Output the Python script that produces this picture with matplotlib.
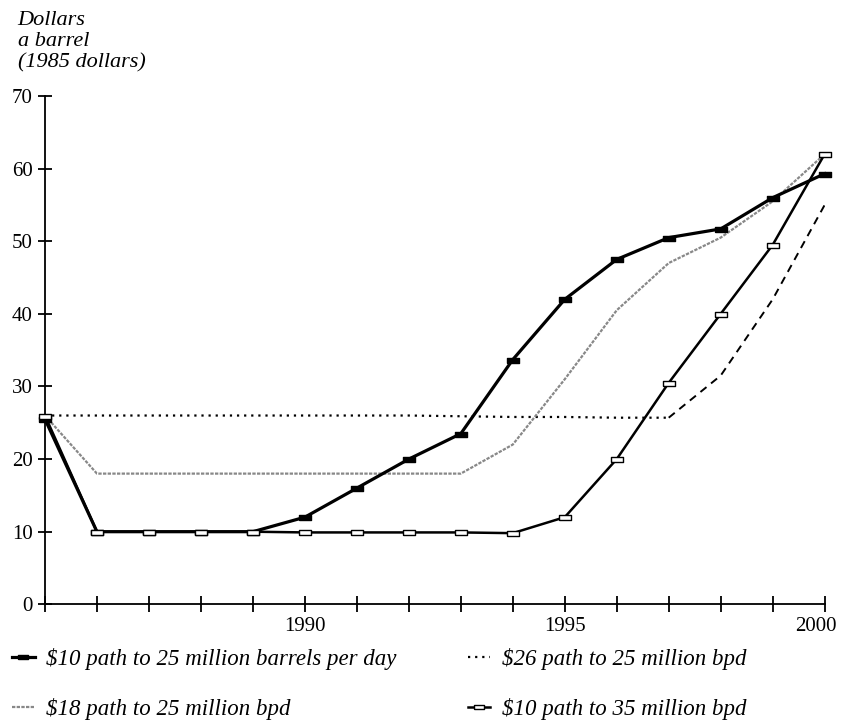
import numpy as np
import matplotlib.pyplot as plt
import matplotlib.transforms as mtransforms
from matplotlib.lines import Line2D

plt.rcParams['font.family'] = ['Liberation Serif', 'DejaVu Serif']

years = np.arange(1985, 2001)

# dollars a barrel, 1985 dollars
path10_25 = [25.5, 10, 10, 10, 10, 12, 16, 20, 23.5, 33.7, 42, 47.5, 50.5, 51.7, 56, 59.3]
path26_25 = [26, 26, 26, 26, 26, 26, 26, 26, 25.9, 25.8, 25.8, 25.7, 25.7, 31.5, 42, 55]
path18_25 = [26, 18, 18, 18, 18, 18, 18, 18, 18, 22, 31, 40.5, 47, 50.5, 55.5, 62]
path10_35 = [26, 10, 10, 10, 10, 9.9, 9.9, 9.9, 9.9, 9.8, 12, 20, 30.5, 40, 49.5, 62]

labels = ["$10 path to 25 million barrels per day",
          "$18 path to 25 million bpd",
          "$26 path to 25 million bpd",
          "$10 path to 35 million bpd"]
labels = [s.replace("$", r"\$") for s in labels]

# flat rectangle marker
rect = [(-1, -0.45), (1, -0.45), (1, 0.45), (-1, 0.45), (-1, -0.45)]

fig = plt.figure(figsize=(8.42, 7.22), dpi=100)
ax = fig.add_axes([0.0534, 0.163, 0.926, 0.704])

# $26 path: dotted, then dashed rise after 1997
ax.plot(years[:13], path26_25[:13], color='black', lw=1.6, ls=(0, (1, 2.2)), zorder=2)
ax.plot(years[12:], path26_25[12:], color='black', lw=1.4, ls=(0, (4, 3)), zorder=2)
ax.plot(years, path18_25, color='#888888', lw=1.6, ls=(0, (1.5, 0.6)), zorder=2)
ax.plot(years, path10_25, color='black', lw=2.3, marker=rect, ms=8,
        mfc='black', mec='black', zorder=3, clip_on=False)
ax.plot(years, path10_35, color='black', lw=1.8, marker=rect, ms=8,
        mfc='white', mec='black', mew=1.0, zorder=4, clip_on=False)

ax.set_xlim(1985, 2000)
ax.set_ylim(0, 70)
ax.spines['top'].set_visible(False)
ax.spines['right'].set_visible(False)
ax.spines['left'].set_linewidth(1.3)
ax.spines['bottom'].set_linewidth(1.3)
ax.set_xticks(years)
ax.set_xticklabels([str(y) if y in (1990, 1995, 2000) else "" for y in years])
ax.set_yticks(range(0, 71, 10))
ax.tick_params(direction='inout', length=12, width=1.3, labelsize=15)
ax.tick_params(axis='y', length=10, pad=4)
ax.tick_params(axis='x', pad=3)

# nudge the last year label left so it stays inside the figure
last = ax.get_xticklabels()[-1]
last.set_transform(last.get_transform() +
                   mtransforms.ScaledTranslation(-9 / 100, 0, fig.dpi_scale_trans))

fig.text(0.021, 0.985, "Dollars\na barrel\n(1985 dollars)", fontsize=16,
         style='italic', va='top', ha='left', linespacing=1.15)

handles = [
    Line2D([], [], color='black', lw=2.3, marker=rect, ms=7, mfc='black'),
    Line2D([], [], color='#888888', lw=1.6, ls=(0, (1.5, 0.6))),
    Line2D([], [], color='black', lw=1.6, ls=(0, (1, 2.2))),
    Line2D([], [], color='black', lw=1.8, marker=rect, ms=7, mfc='white'),
]
fig.legend(handles, labels, ncol=2, loc='upper left', bbox_to_anchor=(0.014, 0.103),
           frameon=False, prop={'style': 'italic', 'size': 16.5}, handlelength=1.0,
           handletextpad=0.5, columnspacing=3.1, labelspacing=1.25,
           borderpad=0, borderaxespad=0)

plt.savefig("out.png", dpi=100)
plt.close()
